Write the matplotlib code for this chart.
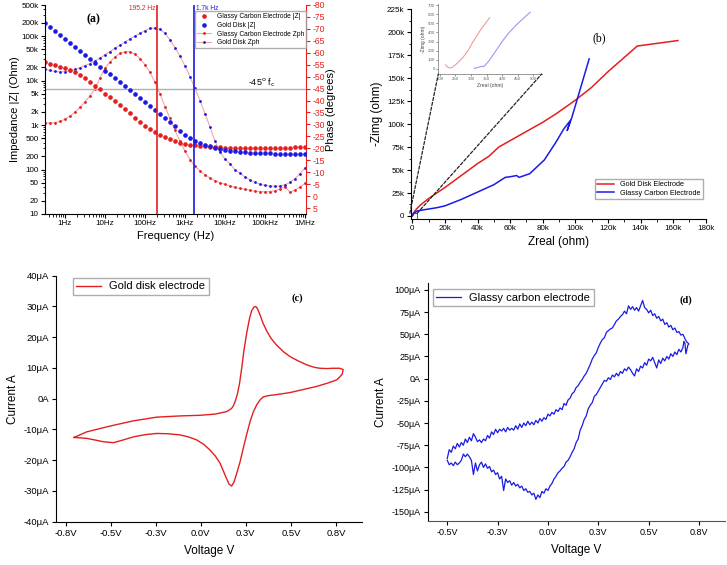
import matplotlib
matplotlib.use("Agg")
import matplotlib.pyplot as plt
from matplotlib.patches import ConnectionPatch, Rectangle
from matplotlib.ticker import (AutoMinorLocator, FixedFormatter, FixedLocator,
                               LogLocator, MultipleLocator, NullFormatter)

plt.rcParams["font.family"] = ["Liberation Sans", "DejaVu Sans"]
plt.rcParams["axes.unicode_minus"] = False

RED = "#e51e1e"
BLUE = "#1a1ae6"
PINK = "#f4a6a6"

# ---------------- (a) Bode data ----------------
freq_hz = [0.316, 0.422, 0.562, 0.750, 1.00, 1.33, 1.78, 2.37,
           3.16, 4.22, 5.62, 7.50, 10.0, 13.3, 17.8, 23.7,
           31.6, 42.2, 56.2, 75.0, 100, 133, 178, 237,
           316, 422, 562, 750, 1000, 1334, 1778, 2371,
           3162, 4217, 5623, 7499, 1.0e4, 1.33e4, 1.78e4, 2.37e4,
           3.16e4, 4.22e4, 5.62e4, 7.50e4, 1.0e5, 1.33e5, 1.78e5, 2.37e5,
           3.16e5, 4.22e5, 5.62e5, 7.50e5, 1.0e6]
gold_z = [193000, 157000, 128000, 105000, 86000, 70000, 57000, 46500,
          38000, 31000, 25200, 20600, 16800, 13700, 11200, 9100,
          7500, 6100, 5000, 4050, 3300, 2700, 2200, 1800,
          1450, 1170, 930, 740, 600, 505, 440, 395,
          358, 330, 308, 290, 275, 264, 256, 249,
          244, 240, 237, 234, 232, 230, 229, 228,
          227, 226, 225, 224, 223]
gc_z = [26000, 24000, 22300, 20600, 19000, 17300, 15600, 13500,
        11400, 9400, 7700, 6300, 5100, 4200, 3400, 2800,
        2300, 1850, 1450, 1150, 950, 800, 680, 600,
        540, 480, 435, 400, 378, 362, 350, 340,
        333, 326, 320, 316, 312, 310, 308, 307,
        306, 305, 304, 304, 304, 304, 305, 306,
        308, 310, 313, 317, 321]
gc_phase = [-30.6, -30.6, -30.8, -31.3, -32.2, -33.5, -35.2, -37.2,
            -39.5, -42.0, -45.0, -49.5, -53.5, -56.2, -58.3, -59.7,
            -60.4, -60.4, -59.5, -57.5, -55.0, -51.8, -47.6, -42.8,
            -37.5, -32.5, -27.5, -23.0, -18.8, -15.2, -12.5, -10.5,
            -8.9, -7.6, -6.5, -5.6, -4.9, -4.3, -3.7, -3.2,
            -2.8, -2.4, -2.1, -1.9, -1.8, -1.9, -2.3, -3.0,
            -4.0, -1.6, -2.5, -3.8, -5.3]
gold_phase = [-53.2, -52.6, -52.2, -52.0, -52.1, -52.4, -53.0, -53.8,
              -54.6, -55.5, -56.6, -57.7, -59.2, -60.5, -61.9, -63.2,
              -64.5, -65.8, -67.0, -68.1, -69.3, -70.2, -70.4, -69.8,
              -68.2, -65.3, -62.2, -58.5, -54.5, -50.0, -45.1, -40.0,
              -34.5, -29.0, -23.0, -18.5, -15.5, -13.5, -11.0, -9.6,
              -8.0, -6.8, -5.8, -5.0, -4.5, -4.2, -4.1, -4.2,
              -4.8, -5.7, -7.3, -9.4, -11.8]
fc_gc = 195.2
fc_gold = 1700
z_ticks = [10, 20, 50, 100, 200, 500, 1e3, 2e3, 5e3, 1e4, 2e4, 5e4, 1e5, 2e5, 5e5]
z_tick_labels = ["10", "20", "50", "100", "200", "500", "1k", "2k", "5k",
                 "10k", "20k", "50k", "100k", "200k", "500k"]
f_ticks = [1, 10, 100, 1e3, 1e4, 1e5, 1e6]
f_tick_labels = ["1Hz", "10Hz", "100Hz", "1kHz", "10kHz", "100kHz", "1MHz"]
phase_ticks = list(range(-80, 10, 5))

# ---------------- (b) Nyquist data ----------------
gold_zre = [0, 1000, 2500, 5000, 10000, 15000, 20000, 30000, 40000, 47000,
            53000, 60000, 70000, 80000, 88000, 100000, 110000, 120000, 138000, 163000]
gold_zim = [0, 4000, 7500, 12000, 19000, 25000, 31000, 44000, 57000, 65000,
            75000, 82000, 92000, 102000, 111000, 126000, 140000, 157000, 185000, 191000]
gc_zre = [0, 1000, 3000, 8000, 15000, 20000, 30000, 40000, 50000, 57000, 61000,
          64000, 65500, 72000, 81000, 88000, 93000, 97000, 95000, 98000, 108500]
gc_zim = [0, 3000, 5500, 7000, 9000, 11000, 18000, 26000, 34000, 42000, 43000,
          44000, 42000, 46000, 61000, 80000, 95000, 104000, 93000, 108000, 171000]
ins_gold_zre = [218, 226, 233, 242, 258, 275, 292, 305, 318, 335, 360]
ins_gold_zim = [45, 18, 10, 22, 70, 130, 210, 290, 360, 450, 560]
ins_gc_zre = [310, 318, 325, 333, 340, 345, 360, 380, 400, 420, 445, 470, 490]
ins_gc_zim = [8, 12, 20, 28, 25, 40, 100, 200, 300, 390, 480, 560, 620]
zoom_box = (-1500, -3000, 4500, 6000)

# ---------------- (c) CV gold ----------------
cv_gold_v = [-0.704, -0.634, -0.504, -0.374, -0.245, -0.115, -0.005, 0.08, 0.143, 0.17,
             0.18, 0.19, 0.203, 0.215, 0.227, 0.24, 0.255, 0.27, 0.282, 0.295,
             0.305, 0.315, 0.329, 0.345, 0.366, 0.39, 0.421, 0.46, 0.495, 0.54,
             0.588, 0.63, 0.66, 0.70, 0.735, 0.77, 0.79,
             0.785, 0.77, 0.754, 0.70, 0.643, 0.57, 0.495, 0.44, 0.403, 0.375,
             0.347, 0.33, 0.31, 0.29, 0.273, 0.255, 0.236, 0.218, 0.199, 0.185,
             0.171, 0.157, 0.143, 0.125, 0.107, 0.08, 0.051, 0.015, -0.023, -0.07,
             -0.115, -0.18, -0.245, -0.31, -0.374, -0.43, -0.485, -0.541, -0.59,
             -0.634, -0.704]
cv_gold_i = [-12.6, -10.8, -8.9, -7.2, -6.0, -5.6, -5.4, -5.0, -4.2, -3.2,
             -2.4, -1.0, 1.5, 5.0, 10.0, 16.0, 21.5, 26.0, 28.6, 29.8,
             30.0, 29.2, 27.2, 24.6, 22.0, 19.6, 17.4, 15.2, 13.7, 12.3,
             11.0, 10.2, 9.9, 9.8, 9.9, 9.9, 9.5,
             8.0, 7.0, 6.1, 5.0, 4.0, 3.0, 2.0, 1.5, 1.2, 1.0,
             0.6, -0.3, -2.0, -4.5, -7.5, -11.5, -16.0, -20.5, -24.3, -27.0,
             -28.4, -27.8, -26.0, -23.5, -21.0, -18.6, -16.7, -14.8, -13.4, -12.4,
             -11.8, -11.4, -11.3, -11.7, -12.4, -13.4, -14.3, -14.0, -13.4,
             -12.9, -12.6]
c_yticks = [-40, -30, -20, -10, 0, 10, 20, 30, 40]
c_ytick_labels = ["-40μA", "-30μA", "-20μA", "-10μA", "0A", "10μA", "20μA", "30μA", "40μA"]
c_xticks = [-0.75, -0.5, -0.25, 0.0, 0.25, 0.5, 0.75]
c_xtick_labels = ["-0.8V", "-0.5V", "-0.3V", "0.0V", "0.3V", "0.5V", "0.8V"]

# ---------------- (d) CV glassy carbon ----------------
cv_gc_v = [-0.50, -0.49, -0.48, -0.47, -0.46, -0.45, -0.44, -0.43, -0.42, -0.41,
           -0.40, -0.39, -0.38, -0.37, -0.36, -0.35, -0.34, -0.33, -0.32, -0.31,
           -0.30, -0.29, -0.28, -0.27, -0.26, -0.25, -0.24, -0.23, -0.22, -0.21,
           -0.20, -0.19, -0.18, -0.17, -0.16, -0.15, -0.14, -0.13, -0.12, -0.11,
           -0.10, -0.09, -0.08, -0.07, -0.06, -0.05, -0.04, -0.03, -0.02, -0.01,
           0.00, 0.01, 0.02, 0.03, 0.04, 0.05, 0.06, 0.07, 0.08, 0.09,
           0.10, 0.11, 0.12, 0.13, 0.14, 0.15, 0.16, 0.17, 0.18, 0.19,
           0.20, 0.21, 0.22, 0.23, 0.24, 0.25, 0.26, 0.27, 0.28, 0.29,
           0.30, 0.31, 0.32, 0.33, 0.34, 0.35, 0.36, 0.37, 0.38, 0.39,
           0.40, 0.41, 0.42, 0.43, 0.44, 0.45, 0.46, 0.47, 0.48, 0.49,
           0.50, 0.51, 0.52, 0.53, 0.54, 0.55, 0.56, 0.57, 0.58, 0.59,
           0.60, 0.61, 0.62, 0.63, 0.64, 0.65, 0.66, 0.67, 0.68, 0.69, 0.70,
           0.695, 0.69, 0.685, 0.68, 0.675, 0.67, 0.66, 0.65, 0.64, 0.63,
           0.62, 0.61, 0.60, 0.59, 0.58, 0.57, 0.56, 0.55, 0.54, 0.53,
           0.52, 0.51, 0.50, 0.49, 0.48, 0.47, 0.46, 0.45, 0.44, 0.43,
           0.42, 0.41, 0.40, 0.39, 0.38, 0.37, 0.36, 0.35, 0.34, 0.33,
           0.32, 0.31, 0.30, 0.29, 0.28, 0.27, 0.26, 0.25, 0.24, 0.23,
           0.22, 0.21, 0.20, 0.19, 0.18, 0.17, 0.16, 0.15, 0.14, 0.13,
           0.12, 0.11, 0.10, 0.09, 0.08, 0.07, 0.06, 0.05, 0.04, 0.03,
           0.02, 0.01, 0.00, -0.01, -0.02, -0.03, -0.04, -0.05, -0.06, -0.07,
           -0.08, -0.09, -0.10, -0.11, -0.12, -0.13, -0.14, -0.15, -0.16, -0.17,
           -0.18, -0.19, -0.20, -0.21, -0.22, -0.23, -0.24, -0.25, -0.26, -0.27,
           -0.28, -0.29, -0.30, -0.31, -0.32, -0.33, -0.34, -0.35, -0.36, -0.37,
           -0.38, -0.39, -0.40, -0.41, -0.42, -0.43, -0.44, -0.45, -0.46, -0.47,
           -0.48, -0.49, -0.50]
cv_gc_i = [-90, -80, -83, -76, -79, -73, -77, -72, -75, -68,
           -72, -66, -70, -62, -66, -71, -69, -72, -68, -70,
           -64, -67, -60, -63, -57, -61, -57, -59, -56, -60,
           -55, -58, -56, -58, -53, -57, -51, -55, -50, -53,
           -48, -52, -49, -52, -47, -50, -45, -48, -44, -46,
           -40, -42, -38, -40, -35, -37, -33, -35, -28, -30,
           -24, -22, -17, -15, -10, -8, -4, -1, 3, 6,
           11, 16, 22, 26, 29, 35, 40, 44, 46, 52,
           54, 56, 57, 61, 65, 67, 70, 72, 76, 73,
           82, 78, 81, 77, 80, 76, 82, 88, 80, 78,
           74, 77, 71, 73, 68, 70, 65, 67, 61, 63,
           58, 60, 55, 57, 52, 53, 49, 50, 45, 41, 39,
           38, 33, 28, 40, 42, 35, 30, 33, 27, 30,
           25, 28, 22, 25, 20, 23, 17, 21, 12, 18,
           24, 20, 22, 15, 18, 12, 14, 8, 11, 3,
           6, 10, 13, 9, 11, 6, 8, 3, 6, 2,
           4, -1, 1, -3, -2, -6, -10, -14, -18, -20,
           -27, -30, -34, -42, -46, -53, -58, -68, -72, -79,
           -83, -88, -92, -94, -99, -101, -104, -106, -110, -113,
           -118, -121, -126, -124, -129, -127, -134, -131, -136, -129,
           -131, -127, -128, -124, -126, -121, -123, -119, -121, -117,
           -120, -115, -117, -113, -126, -110, -113, -106, -108, -103,
           -105, -99, -101, -96, -100, -94, -97, -104, -95, -108,
           -92, -88, -85, -88, -85, -92, -95, -97, -94, -98,
           -95, -97, -92]
d_yticks = [-150, -125, -100, -75, -50, -25, 0, 25, 50, 75, 100]
d_ytick_labels = ["-150μA", "-125μA", "-100μA", "-75μA", "-50μA", "-25μA", "0A",
                  "25μA", "50μA", "75μA", "100μA"]
d_xticks = [-0.5, -0.25, 0.0, 0.25, 0.5, 0.75]
d_xtick_labels = ["-0.5V", "-0.3V", "0.0V", "0.3V", "0.5V", "0.8V"]

fig = plt.figure(figsize=(7.27, 5.65), dpi=100)


def rect(left, top, right, bottom):
    return [left / 727, 1 - bottom / 565, (right - left) / 727, (bottom - top) / 565]


# ---------------- panel (a) ----------------
ax = fig.add_axes(rect(45, 5, 306, 214))
ax2 = ax.twinx()
ax.set_zorder(ax2.get_zorder() + 1)
ax.patch.set_visible(False)

l1, = ax.plot(freq_hz, gc_z, color="#555555", lw=0.0, marker="o", ms=2.3,
              mfc=RED, mec=RED, label="Glassy Carbon Electrode |Z|")
l2, = ax.plot(freq_hz, gold_z, color="#555555", lw=0.0, marker="o", ms=2.3,
              mfc=BLUE, mec=BLUE, label="Gold Disk |Z|")
l3, = ax2.plot(freq_hz, gc_phase, color=PINK, lw=0.8, marker="o", ms=1.0,
               mfc=RED, mec=RED, label="Glassy Carbon Electrode Zph")
l4, = ax2.plot(freq_hz, gold_phase, color=PINK, lw=0.8, marker="o", ms=1.0,
               mfc=BLUE, mec=BLUE, label="Gold Disk Zph")
ax2.axhline(-45, color="#b0b0b0", lw=1.0)
ax.axvline(fc_gc, color=RED, lw=1.2)
ax.axvline(fc_gold, color=BLUE, lw=1.2)

ax.set_xscale("log")
ax.set_yscale("log")
ax.set_xlim(0.316, 1.06e6)
ax.set_ylim(10, 5e5)
ax2.set_ylim(7.5, -80)
ax.yaxis.set_major_locator(FixedLocator(z_ticks))
ax.yaxis.set_major_formatter(FixedFormatter(z_tick_labels))
ax.yaxis.set_minor_locator(LogLocator(subs=range(2, 10)))
ax.yaxis.set_minor_formatter(NullFormatter())
ax.xaxis.set_major_locator(FixedLocator(f_ticks))
ax.xaxis.set_major_formatter(FixedFormatter(f_tick_labels))
ax.xaxis.set_minor_locator(LogLocator(subs=range(2, 10)))
ax.xaxis.set_minor_formatter(NullFormatter())
ax2.yaxis.set_major_locator(FixedLocator(phase_ticks))
ax.tick_params(labelsize=5.8, length=3, width=0.8, pad=1.5)
ax.tick_params(which="minor", length=1.8, width=0.6)
ax2.tick_params(axis="y", colors=RED, labelsize=6.2, length=3, width=0.8, pad=1.5)
for a in (ax, ax2):
    a.spines["top"].set_visible(False)
ax2.spines["right"].set_color(RED)
ax2.spines["left"].set_visible(False)
ax2.spines["bottom"].set_visible(False)
ax.spines["right"].set_visible(False)
ax.set_xlabel("Frequency (Hz)", fontsize=8, labelpad=3)
ax.set_ylabel("Impedance |Z| (Ohm)", fontsize=8, labelpad=1)
ax2.set_ylabel("Phase (degrees)", fontsize=8, labelpad=1)
ax.legend(handles=[l1, l2, l3, l4], loc="upper right", bbox_to_anchor=(1.0, 0.97),
          fontsize=4.8, frameon=True, fancybox=False, edgecolor="#999999",
          handlelength=2.2, borderpad=0.3, labelspacing=0.25, borderaxespad=0)
ax.text(0.83, 0.6, r"-45$^{\rm o}$ f$_{\rm c}$", transform=ax.transAxes,
        fontsize=6.5, ha="center", va="bottom")
ax.text(fc_gc / 1.1, 0.985, "195.2 Hz", color=RED, fontsize=4.8, ha="right", va="center",
        transform=ax.get_xaxis_transform())
ax.text(fc_gold * 1.12, 0.985, "1.7k Hz", color=BLUE, fontsize=4.8, ha="left", va="center",
        transform=ax.get_xaxis_transform())
ax.text(0.185, 0.93, "(a)", transform=ax.transAxes, fontsize=8.5,
        family="Liberation Serif", weight="bold", ha="center", va="center")

# ---------------- panel (b) ----------------
bx = fig.add_axes(rect(410.7, 9.3, 705.7, 219))
bx.plot(gold_zre, gold_zim, color=RED, lw=1.1, label="Gold Disk Electrode")
bx.plot(gc_zre, gc_zim, color=BLUE, lw=1.1, label="Glassy Carbon Electrode")
bx.set_xlim(-1000, 180000)
bx.set_ylim(-3300, 225000)
bx.xaxis.set_major_locator(MultipleLocator(20000))
bx.xaxis.set_minor_locator(AutoMinorLocator(2))
bx.yaxis.set_major_locator(MultipleLocator(25000))
bx.yaxis.set_minor_locator(AutoMinorLocator(2))
bx.xaxis.set_major_formatter(lambda v, p: "0" if v == 0 else f"{v / 1000:.0f}k")
bx.yaxis.set_major_formatter(lambda v, p: "0" if v == 0 else f"{v / 1000:.0f}k")
bx.tick_params(labelsize=5.8, length=3, width=0.8, pad=1.5)
bx.tick_params(which="minor", length=1.8, width=0.6)
bx.spines["top"].set_visible(False)
bx.spines["right"].set_visible(False)
bx.set_xlabel("Zreal (ohm)", fontsize=8.5, labelpad=3)
bx.set_ylabel("-Zimg (ohm)", fontsize=8.5, labelpad=3)
bx.legend(loc="lower right", bbox_to_anchor=(0.99, 0.095), fontsize=5.2,
          frameon=True, fancybox=False, edgecolor="#999999", handlelength=2.4,
          borderpad=0.3, labelspacing=0.25, borderaxespad=0)
bx.text(0.64, 0.86, "(b)", transform=bx.transAxes, fontsize=8.5,
        family="Liberation Serif", ha="center", va="center")

bx.add_patch(Rectangle(zoom_box[:2], zoom_box[2], zoom_box[3], fill=False,
                       ec="#444444", lw=0.6))
ins = fig.add_axes(rect(438.3, 4, 541.7, 74))
ins.plot(ins_gold_zre, ins_gold_zim, color="#f29a9a", lw=0.8)
ins.plot(ins_gc_zre, ins_gc_zim, color="#9a9af2", lw=0.8)
ins.set_xlim(195, 527)
ins.set_ylim(-55, 711)
ins.xaxis.set_major_locator(MultipleLocator(50))
ins.yaxis.set_major_locator(MultipleLocator(100))
ins.tick_params(labelsize=3.2, length=1.5, width=0.5, pad=1, colors="#666666")
ins.spines["top"].set_visible(False)
ins.spines["right"].set_visible(False)
for s in ("left", "bottom"):
    ins.spines[s].set_color("#888888")
    ins.spines[s].set_linewidth(0.6)
ins.set_xlabel("Zreal (ohm)", fontsize=3.6, labelpad=1, color="#444444")
ins.set_ylabel("-Zimg (ohm)", fontsize=3.6, labelpad=1, color="#444444")
for corner, start in (((0, 0), (zoom_box[0], zoom_box[1] + zoom_box[3])),
                      ((1, 0), (zoom_box[0] + zoom_box[2], zoom_box[1] + zoom_box[3]))):
    con = ConnectionPatch(xyA=start, coordsA=bx.transData, xyB=corner,
                          coordsB=ins.transAxes, ls=(0, (2.5, 1.5)), lw=0.9, color="#222222")
    fig.add_artist(con)

# ---------------- panel (c) ----------------
cx = fig.add_axes(rect(56, 275.7, 361.7, 521.7))
cx.plot(cv_gold_v, cv_gold_i, color=RED, lw=1.0, label="Gold disk electrode")
cx.set_xlim(-0.804, 0.893)
cx.set_ylim(-40, 40)
cx.yaxis.set_major_locator(FixedLocator(c_yticks))
cx.yaxis.set_major_formatter(FixedFormatter(c_ytick_labels))
cx.xaxis.set_major_locator(FixedLocator(c_xticks))
cx.xaxis.set_major_formatter(FixedFormatter(c_xtick_labels))
cx.tick_params(labelsize=6.8, length=3, width=0.8, pad=2)
cx.spines["top"].set_visible(False)
cx.spines["right"].set_visible(False)
cx.set_xlabel("Voltage V", fontsize=8.5, labelpad=5)
cx.set_ylabel("Current A", fontsize=8.5, labelpad=3)
cx.legend(loc="upper left", bbox_to_anchor=(0.055, 0.99), fontsize=8,
          frameon=True, fancybox=False, edgecolor="#999999", handlelength=2.2,
          borderpad=0.3, borderaxespad=0)
cx.text(0.79, 0.907, "(c)", transform=cx.transAxes, fontsize=7.5,
        family="Liberation Serif", weight="bold", ha="center", va="center")

# ---------------- panel (d) ----------------
dx = fig.add_axes(rect(427.7, 282.7, 725, 520.7))
dx.plot(cv_gc_v, cv_gc_i, color=BLUE, lw=0.9, label="Glassy carbon electrode")
dx.set_xlim(-0.597, 0.879)
dx.set_ylim(-160, 108)
dx.yaxis.set_major_locator(FixedLocator(d_yticks))
dx.yaxis.set_major_formatter(FixedFormatter(d_ytick_labels))
dx.xaxis.set_major_locator(FixedLocator(d_xticks))
dx.xaxis.set_major_formatter(FixedFormatter(d_xtick_labels))
dx.tick_params(labelsize=6.5, length=3, width=0.8, pad=2)
dx.spines["top"].set_visible(False)
dx.spines["right"].set_visible(False)
dx.spines["bottom"].set_color("#4a4aa0")
dx.set_xlabel("Voltage V", fontsize=8.5, labelpad=5)
dx.set_ylabel("Current A", fontsize=8.5, labelpad=3)
dx.legend(loc="upper left", bbox_to_anchor=(0.017, 0.972), fontsize=8,
          frameon=True, fancybox=False, edgecolor="#999999", handlelength=2.2,
          borderpad=0.3, borderaxespad=0)
dx.text(0.87, 0.925, "(d)", transform=dx.transAxes, fontsize=7.5,
        family="Liberation Serif", weight="bold", ha="center", va="center")

fig.savefig("out.png", dpi=100)
